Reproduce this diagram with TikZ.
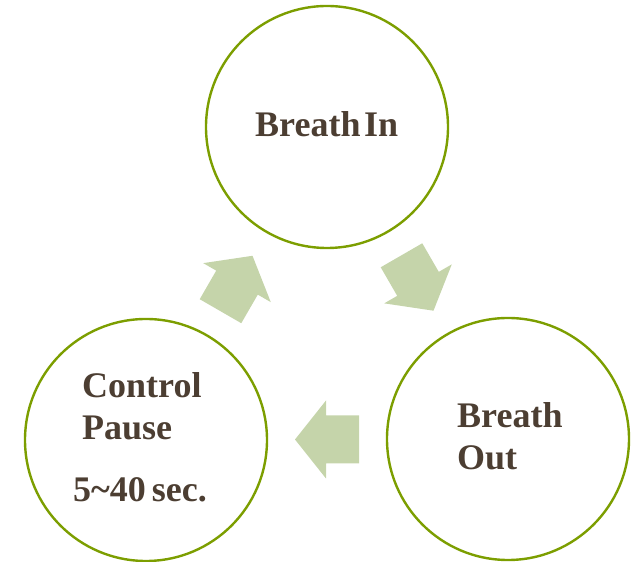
\documentclass[tikz,border=0pt]{standalone}
\usepackage{fontspec}
\setmainfont{Liberation Serif}
\usetikzlibrary{calc}
\definecolor{ringgreen}{RGB}{124,158,0}
\definecolor{arrowgreen}{RGB}{197,212,170}
\definecolor{labelbrown}{RGB}{76,62,50}
\tikzset{
  ring/.style={circle, draw=ringgreen, line width=2.4pt, minimum size=242pt, inner sep=0pt},
  caption/.style={anchor=base west, inner sep=0pt, text=labelbrown,
    font=\fontsize{36}{42}\selectfont\bfseries},
  bigarrow/.pic={
    \fill[arrowgreen] (-32,-24) -- (1,-24) -- (1,-39) -- (32,0)
      -- (1,39) -- (1,24) -- (-32,24) -- cycle;
  }
}
\begin{document}
\begin{tikzpicture}[x=1pt, y=1pt]
  \useasboundingbox (0,0) rectangle (638,562);

  % the three phases of the breathing cycle
  \node[ring] (in)    at (327,435) {};
  \node[ring] (out)   at (508,123) {};
  \node[ring] (pause) at (146,122) {};

  % labels
  \node[caption] (inlabel)  at (255,425) {Breath\kern3.5pt In};
  \node[caption] (outlabel1) at (457,134) {Breath};
  \node[caption] (outlabel2) at (457,92)  {Out};
  \node[caption] (plabel1)  at (82,164) {Control};
  \node[caption] (plabel2)  at (82,122) {Pause};
  \node[caption] (plabel3)  at (73,60)  {5{\char"7E}40\kern6pt sec.};

  % block arrows halfway between the circles
  \pic[rotate=-60] at ($(in)!0.5!(out)$) {bigarrow};
  \pic[rotate=180] at ($(out)!0.5!(pause)$) {bigarrow};
  \pic[rotate=60]  at ($(pause)!0.5!(in)$) {bigarrow};
\end{tikzpicture}
\end{document}
